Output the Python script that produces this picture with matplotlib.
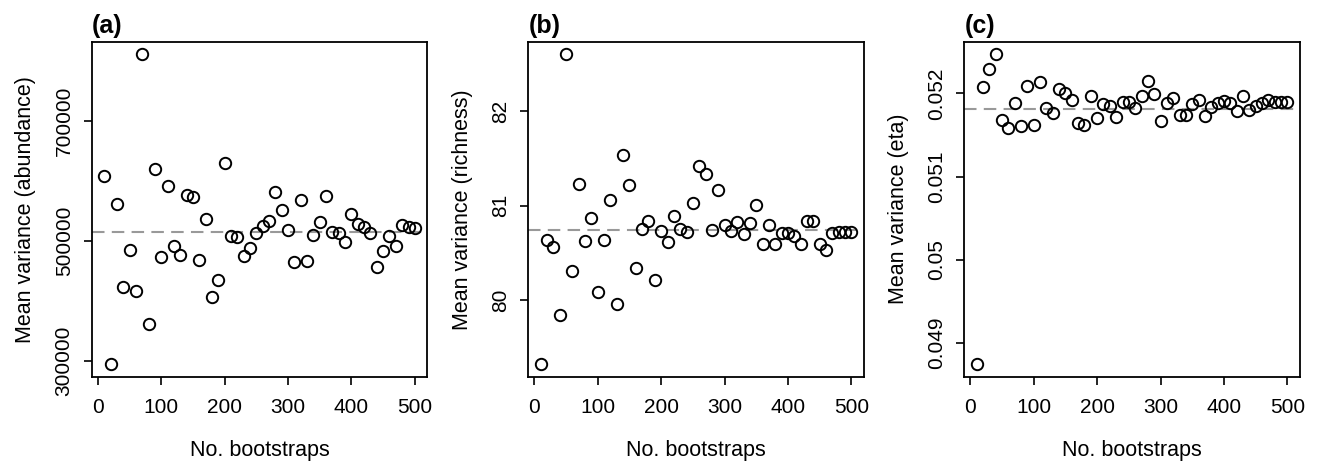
import numpy as np
import matplotlib
matplotlib.use("Agg")
import matplotlib.pyplot as plt

plt.rcParams['font.family'] = ['Liberation Sans', 'DejaVu Sans']

# number of bootstraps (x) shared by all panels
n_boot = list(range(10, 501, 10))

# (a) abundance
var_abund = [607700, 294500, 561900, 422650, 485100, 416600, 810500, 360800, 619900, 472900,
             591700, 490600, 476200, 576800, 573500, 467400, 535400, 407200, 435400, 629300,
             507200, 506600, 475100, 488400, 512700, 524300, 533200, 581800, 551900, 518200,
             464600, 567400, 466900, 509900, 530400, 575100, 514900, 513300, 497200, 544200,
             528200, 522100, 512200, 455800, 482300, 508300, 491700, 526000, 523200, 521500]
ref_abund = 513800

# (b) richness
var_rich = [79.317, 80.637, 80.563, 79.842, 82.606, 80.310, 81.225, 80.627, 80.866, 80.081,
            80.634, 81.056, 79.961, 81.535, 81.215, 80.335, 80.750, 80.838, 80.211, 80.729,
            80.616, 80.891, 80.754, 80.722, 81.025, 81.423, 81.335, 80.743, 81.162, 80.796,
            80.729, 80.827, 80.701, 80.813, 81.007, 80.592, 80.799, 80.592, 80.704, 80.704,
            80.680, 80.592, 80.835, 80.838, 80.592, 80.525, 80.704, 80.722, 80.722, 80.722]
ref_rich = 80.743

# (c) eta
var_eta = [0.048744, 0.052076, 0.052296, 0.052472, 0.051684, 0.051588, 0.051880, 0.051612, 0.052084, 0.051624,
           0.052140, 0.051820, 0.051764, 0.052052, 0.052004, 0.051924, 0.051644, 0.051620, 0.051964, 0.051704,
           0.051876, 0.051844, 0.051716, 0.051896, 0.051896, 0.051824, 0.051964, 0.052148, 0.051992, 0.051668,
           0.051880, 0.051944, 0.051744, 0.051744, 0.051876, 0.051920, 0.051724, 0.051836, 0.051880, 0.051904,
           0.051880, 0.051788, 0.051964, 0.051796, 0.051848, 0.051888, 0.051924, 0.051892, 0.051892, 0.051892]
ref_eta = 0.051816

panels = [
    ("(a)", var_abund, ref_abund, "Mean variance (abundance)",
     [300000, 500000, 700000], ["300000", "500000", "700000"]),
    ("(b)", var_rich, ref_rich, "Mean variance (richness)",
     [80, 81, 82], ["80", "81", "82"]),
    ("(c)", var_eta, ref_eta, "Mean variance (eta)",
     [0.049, 0.050, 0.051, 0.052], ["0.049", "0.05", "0.051", "0.052"]),
]

x_ticks = [0, 100, 200, 300, 400, 500]
lefts = [0.0695, 0.4002, 0.7305]

fig = plt.figure(figsize=(13.2, 4.61), dpi=100)

for left, (tag, vals, ref, ylab, yt, ytl) in zip(lefts, panels):
    ax = fig.add_axes([left, 0.1829, 0.2542, 0.7266])
    ax.axhline(ref, color='#999999', linewidth=1.5, linestyle=(0, (6, 3.5)), zorder=1)
    ax.plot(n_boot, vals, linestyle='none', marker='o', markersize=8.2,
            markerfacecolor='none', markeredgecolor='black', markeredgewidth=1.4, zorder=2)
    ax.margins(x=0.04, y=0.04)

    ax.set_xticks(x_ticks)
    ax.set_xticklabels([str(t) for t in x_ticks])
    ax.set_yticks(yt)
    ax.set_yticklabels(ytl, rotation=90, va='center')
    ax.tick_params(direction='out', length=6, width=1.2, labelsize=15, color='black')
    ax.tick_params(axis='x', pad=9)
    ax.tick_params(axis='y', pad=7)
    for s in ax.spines.values():
        s.set_linewidth(1.3)

    ax.set_xlabel("No. bootstraps", fontsize=15.5)
    ax.set_ylabel(ylab, fontsize=15.5)
    ax.xaxis.set_label_coords(0.5, -0.19)
    ax.yaxis.set_label_coords(-0.165, 0.5)
    ax.set_title(tag, loc='left', fontsize=18, fontweight='bold', pad=6)

fig.savefig("out.png", dpi=100)
